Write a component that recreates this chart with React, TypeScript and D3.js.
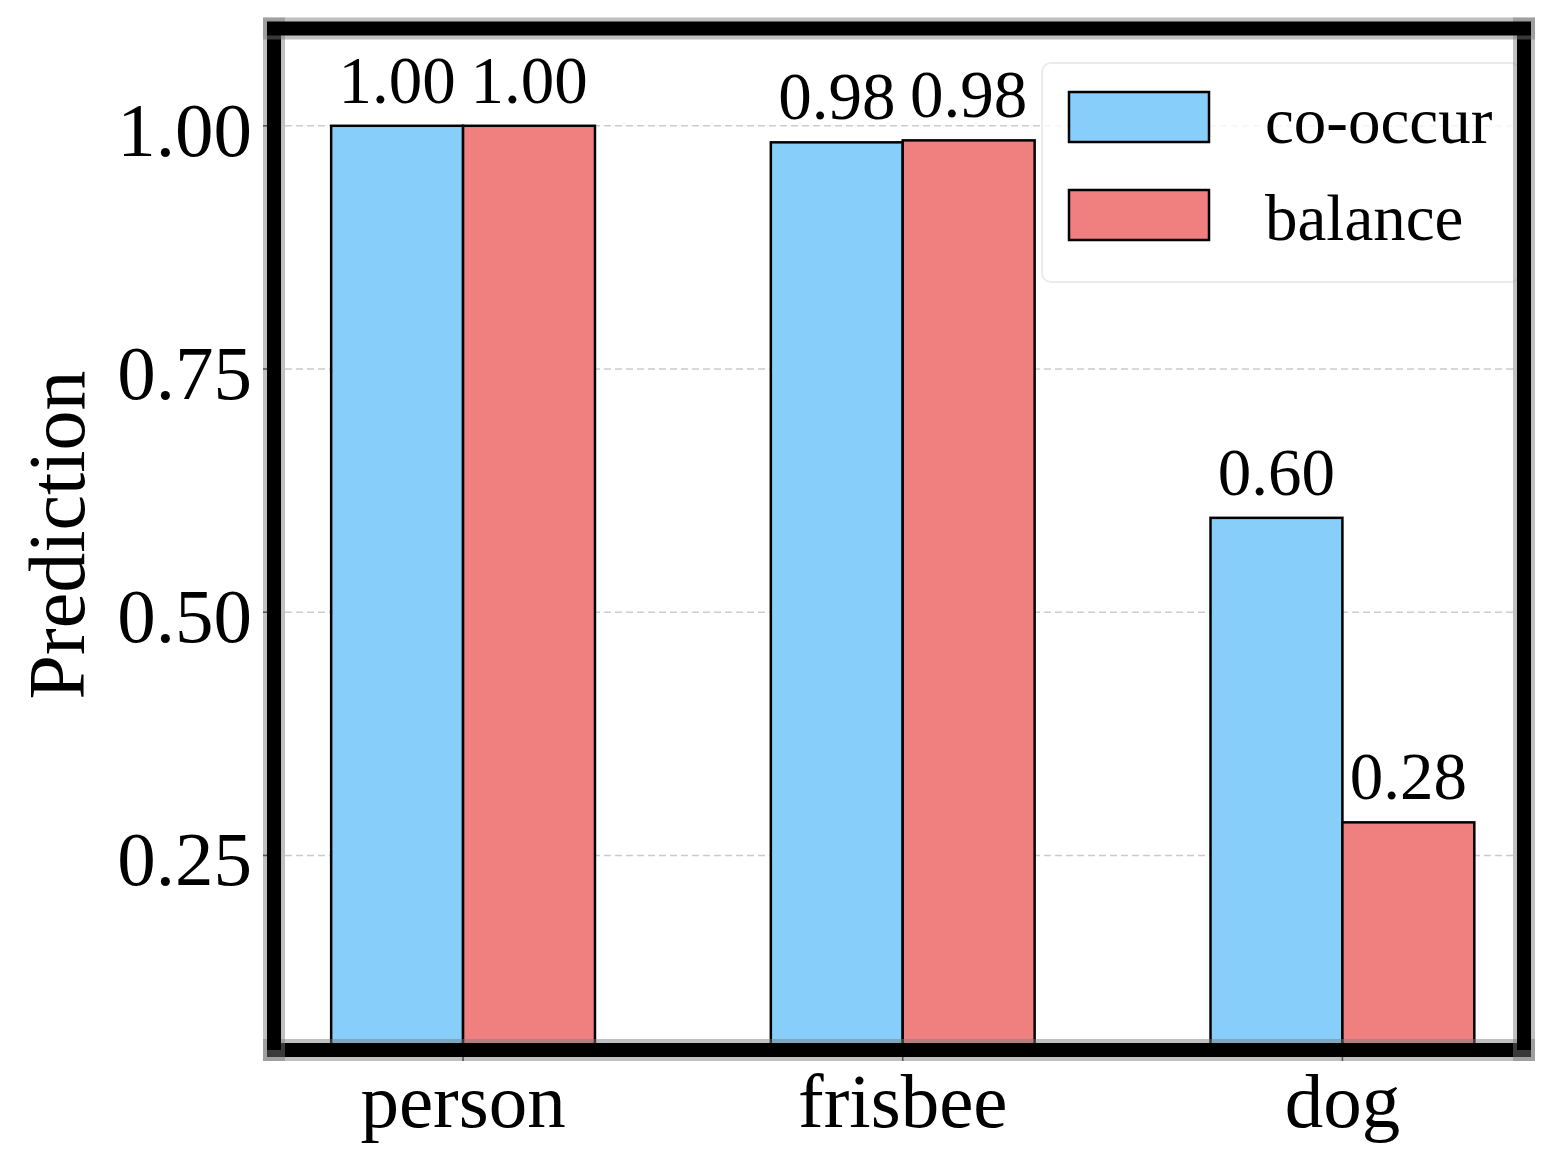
import React, { useEffect, useRef } from 'react';
import * as d3 from 'd3';

const categories: string[] = ['person', 'frisbee', 'dog'];
const cooccur: number[] = [1.0, 0.983, 0.597];
const balance: number[] = [1.0, 0.985, 0.284];
const seriesNames: string[] = ['co-occur', 'balance'];
const seriesColors: string[] = ['#87cefa', '#f08080'];
const yTicks: number[] = [0.25, 0.5, 0.75, 1.0];

const W = 1562;
const H = 1171;
const FONT = '"Liberation Serif", "DejaVu Serif", serif';

const Chart: React.FC = () => {
  const svgRef: any = useRef<SVGSVGElement>(null);

  useEffect(() => {
    if (!svgRef.current) return;
    const svg = d3.select(svgRef.current);
    svg.selectAll('*').remove();

    const left = 274;
    const right = 1524;
    const top = 28.5;
    const bottom = 1050;
    const barW = 0.3;

    const x = d3.scaleLinear().domain([-0.43, 2.413]).range([left, right]);
    const y = d3.scaleLinear().domain([0.05, 1.1]).range([bottom, top]);

    svg
      .append('defs')
      .append('clipPath')
      .attr('id', 'plot-clip')
      .append('rect')
      .attr('x', left)
      .attr('y', top)
      .attr('width', right - left)
      .attr('height', bottom - top);

    // grid
    svg
      .append('g')
      .selectAll('line')
      .data(yTicks)
      .join('line')
      .attr('x1', left)
      .attr('x2', right)
      .attr('y1', d => y(d))
      .attr('y2', d => y(d))
      .attr('stroke', '#cccccc')
      .attr('stroke-width', 1.6)
      .attr('stroke-dasharray', '7,4');

    // bars
    const series = [cooccur, balance];
    const bars = svg.append('g').attr('clip-path', 'url(#plot-clip)');
    series.forEach((vals, s) => {
      bars
        .append('g')
        .selectAll('rect')
        .data(vals)
        .join('rect')
        .attr('x', (d, i) => x(i - barW + s * barW))
        .attr('width', x(barW) - x(0))
        .attr('y', d => y(d))
        .attr('height', d => y(0) - y(d))
        .attr('fill', seriesColors[s])
        .attr('stroke', '#000')
        .attr('stroke-width', 2.5);
    });

    // bar labels
    series.forEach((vals, s) => {
      svg
        .append('g')
        .selectAll('text')
        .data(vals)
        .join('text')
        .attr('x', (d, i) => x(i - barW / 2 + s * barW))
        .attr('y', d => y(d) - 23)
        .attr('text-anchor', 'middle')
        .attr('font-family', FONT)
        .attr('font-size', 67)
        .text(d => d.toFixed(2));
    });

    // legend
    const lg = svg.append('g');
    lg.append('rect')
      .attr('x', 1042)
      .attr('y', 63)
      .attr('width', 478)
      .attr('height', 219)
      .attr('rx', 9)
      .attr('fill', '#fff')
      .attr('fill-opacity', 0.8)
      .attr('stroke', '#ebebeb')
      .attr('stroke-width', 2);
    seriesNames.forEach((name, s) => {
      lg.append('rect')
        .attr('x', 1069)
        .attr('y', 92 + s * 98)
        .attr('width', 140)
        .attr('height', 50)
        .attr('fill', seriesColors[s])
        .attr('stroke', '#000')
        .attr('stroke-width', 2.5);
      lg.append('text')
        .attr('x', 1265)
        .attr('y', 143 + s * 97)
        .attr('font-family', FONT)
        .attr('font-size', 65)
        .text(name);
    });

    // ticks
    svg
      .append('g')
      .selectAll('line')
      .data(yTicks)
      .join('line')
      .attr('x1', left - 11)
      .attr('x2', left)
      .attr('y1', d => y(d))
      .attr('y2', d => y(d))
      .attr('stroke', '#333')
      .attr('stroke-width', 1.6);
    svg
      .append('g')
      .selectAll('line')
      .data(categories)
      .join('line')
      .attr('x1', (d, i) => x(i))
      .attr('x2', (d, i) => x(i))
      .attr('y1', bottom)
      .attr('y2', bottom + 11)
      .attr('stroke', '#333')
      .attr('stroke-width', 1.6);

    // spines: gray halo + black line, in draw order bottom, left, right, top
    const spines = [
      { x1: left, y1: bottom, x2: right, y2: bottom, h: true },
      { x1: left, y1: top, x2: left, y2: bottom, h: false },
      { x1: right, y1: top, x2: right, y2: bottom, h: false },
      { x1: left, y1: top, x2: right, y2: top, h: true },
    ];
    const sp = svg.append('g');
    spines.forEach(s => {
      sp.append('line')
        .attr('x1', s.h ? s.x1 - 11 : s.x1)
        .attr('x2', s.h ? s.x2 + 11 : s.x2)
        .attr('y1', s.h ? s.y1 : s.y1 - 11)
        .attr('y2', s.h ? s.y2 : s.y2 + 11)
        .attr('stroke', '#7a7a7a')
        .attr('stroke-opacity', 0.47)
        .attr('stroke-width', 22);
      sp.append('line')
        .attr('x1', s.h ? s.x1 - 7 : s.x1)
        .attr('x2', s.h ? s.x2 + 7 : s.x2)
        .attr('y1', s.y1)
        .attr('y2', s.y2)
        .attr('stroke', '#000')
        .attr('stroke-width', 14);
    });

    // tick labels
    svg
      .append('g')
      .selectAll('text')
      .data(yTicks)
      .join('text')
      .attr('x', 252)
      .attr('y', d => y(d) + 30)
      .attr('text-anchor', 'end')
      .attr('font-family', FONT)
      .attr('font-size', 77)
      .text(d => d.toFixed(2));
    svg
      .append('g')
      .selectAll('text')
      .data(categories)
      .join('text')
      .attr('x', (d, i) => x(i))
      .attr('y', 1127)
      .attr('text-anchor', 'middle')
      .attr('font-family', FONT)
      .attr('font-size', 77)
      .text(d => d);

    // axis title
    svg
      .append('text')
      .attr('transform', 'translate(84,535) rotate(-90)')
      .attr('text-anchor', 'middle')
      .attr('font-family', FONT)
      .attr('font-size', 80)
      .text('Prediction');
  }, []);

  return (
    <svg
      ref={svgRef}
      width={W}
      height={H}
      style={{ position: 'absolute', left: 0, top: 0, background: '#fff' }}
    ></svg>
  );
};

const App = () => {
  return <Chart />;
};

export default App;
